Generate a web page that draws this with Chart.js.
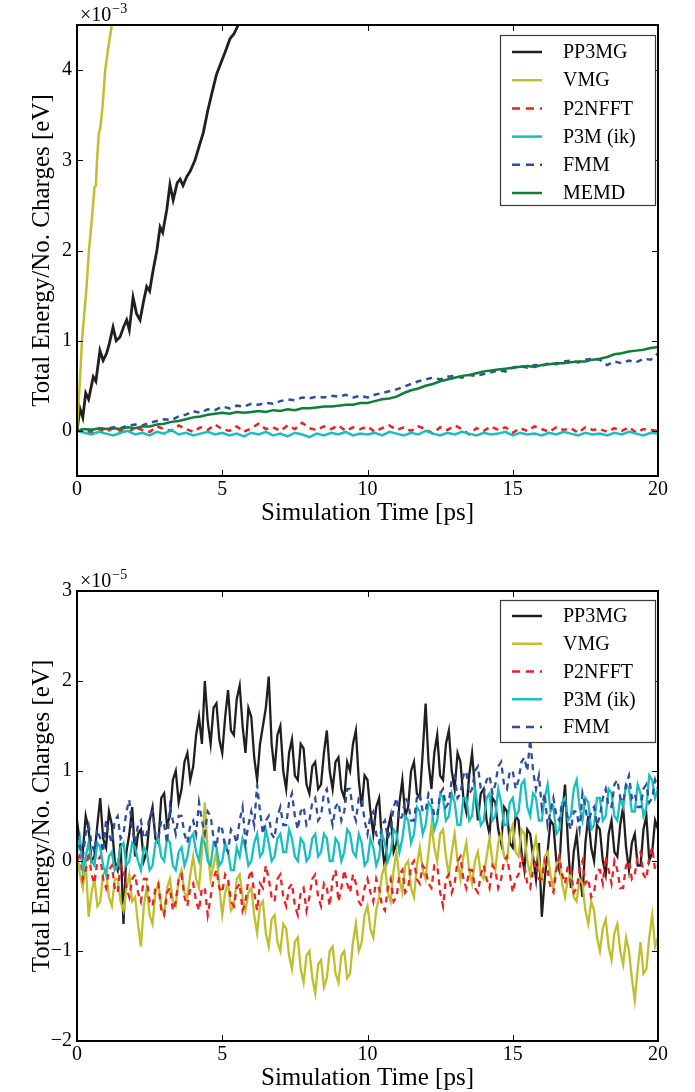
<!DOCTYPE html>
<html>
<head>
<meta charset="utf-8">
<script src="https://cdn.jsdelivr.net/npm/chart.js@4.4.1/dist/chart.umd.min.js"></script>
<style>
    html, body { margin: 0; padding: 0; background: #fff; overflow: hidden; }
    canvas { position: absolute; left: 0; }
    #graficoTopo { top: 0; }
    #graficoBase { top: 545px; }
</style>
</head>
<body>
<canvas id="graficoTopo" width="695" height="545"></canvas>
<canvas id="graficoBase" width="695" height="547"></canvas>
<script>
// ==========================
// DADOS - PAINEL DE CIMA (x 10^-3 eV)
// ==========================
const xTicks = [0, 5, 10, 15, 20];
const yTicksTopo = [0, 1, 2, 3, 4];
const yTicksBase = [-2, -1, 0, 1, 2, 3];

const tempoTopo = [
    0, 0.25, 0.5, 0.75, 1, 1.25, 1.5, 1.75,
    2, 2.25, 2.5, 2.75, 3, 3.25, 3.5, 3.75,
    4, 4.25, 4.5, 4.75, 5, 5.25, 5.5, 5.75,
    6, 6.25, 6.5, 6.75, 7, 7.25, 7.5, 7.75,
    8, 8.25, 8.5, 8.75, 9, 9.25, 9.5, 9.75,
    10, 10.25, 10.5, 10.75, 11, 11.25, 11.5, 11.75,
    12, 12.25, 12.5, 12.75, 13, 13.25, 13.5, 13.75,
    14, 14.25, 14.5, 14.75, 15, 15.25, 15.5, 15.75,
    16, 16.25, 16.5, 16.75, 17, 17.25, 17.5, 17.75,
    18, 18.25, 18.5, 18.75, 19, 19.25, 19.5, 19.75,
    20
];

const pp3mgTempoTopo = [0, 0.1, 0.2, 0.3, 0.4, 0.56, 0.65, 0.79, 0.9, 1.02, 1.1, 1.24, 1.35, 1.48, 1.6, 1.71, 1.8, 1.93, 2.05, 2.17, 2.3, 2.4, 2.5, 2.62, 2.75, 2.86, 2.95, 3.09, 3.2, 3.31, 3.45, 3.55, 3.65, 3.78, 3.9, 4.06, 4.2, 4.35, 4.5, 4.7, 4.8, 4.92, 5.1, 5.27, 5.4, 5.55, 5.8, 6.0];
const pp3mgTopo = [0, 0.25, 0.15, 0.42, 0.35, 0.6, 0.55, 0.89, 0.78, 0.86, 0.95, 1.15, 1.0, 1.04, 1.15, 1.23, 1.12, 1.48, 1.3, 1.23, 1.45, 1.6, 1.55, 1.78, 2.0, 2.26, 2.2, 2.45, 2.73, 2.56, 2.75, 2.79, 2.72, 2.82, 2.88, 3.0, 3.15, 3.31, 3.55, 3.82, 3.95, 4.05, 4.2, 4.35, 4.4, 4.5, 4.7, 4.85];

const vmgTempoTopo = [0, 0.05, 0.1, 0.17, 0.25, 0.33, 0.41, 0.5, 0.6, 0.65, 0.69, 0.75, 0.8, 0.88, 0.97, 1.1, 1.2, 1.3];
const vmgTopo = [0, 0.3, 0.55, 1.0, 1.3, 1.6, 2.0, 2.3, 2.7, 2.72, 3.0, 3.3, 3.35, 3.6, 4.0, 4.3, 4.5, 4.75];

const p2nfftTopo = [
    0.00, 0.01, -0.02, 0.02, -0.01, 0.03, 0.00, -0.02,
    0.04, 0.01, -0.01, 0.05, 0.02, 0.00, 0.06, 0.02,
    -0.01, 0.04, 0.01, 0.07, 0.02, 0.00, 0.05, -0.01,
    0.03, 0.08, 0.02, 0.04, 0.00, 0.06, 0.02, 0.09,
    0.03, 0.01, 0.05, 0.02, 0.06, 0.00, 0.04, 0.02,
    0.05, -0.01, 0.03, 0.06, 0.01, 0.04, 0.00, 0.05,
    0.02, -0.03, 0.04, 0.01, 0.06, 0.02, -0.04, 0.03,
    0.00, 0.05, 0.01, 0.04, -0.02, 0.03, 0.00, 0.05,
    0.02, -0.01, 0.04, 0.01, 0.03, -0.02, 0.04, 0.01,
    0.02, -0.01, 0.03, 0.00, 0.04, -0.02, 0.02, 0.01,
    0.00
];

const p3mTopo = [
    0.00, -0.02, -0.04, -0.01, -0.03, -0.05, -0.02, 0.00,
    -0.04, -0.02, -0.05, -0.01, -0.03, 0.01, -0.04, -0.02,
    -0.05, -0.03, -0.01, -0.04, -0.02, -0.05, -0.03, -0.06,
    -0.02, -0.04, -0.01, -0.05, -0.03, -0.06, -0.02, -0.04,
    -0.07, -0.03, -0.05, -0.02, -0.04, -0.01, -0.05, -0.03,
    -0.04, -0.02, -0.05, -0.01, -0.03, -0.05, -0.02, -0.04,
    0.00, -0.03, -0.05, -0.02, -0.04, -0.01, -0.03, -0.05,
    -0.02, -0.04, -0.03, -0.01, -0.05, -0.02, -0.04, -0.03,
    -0.05, -0.02, -0.04, -0.01, -0.03, -0.05, -0.02, -0.04,
    -0.03, -0.05, -0.02, -0.04, -0.01, -0.03, -0.05, -0.02,
    -0.03
];

const fmmTopo = [
    0.00, 0.02, 0.01, 0.03, 0.02, 0.04, 0.03, 0.06,
    0.07, 0.06, 0.09, 0.11, 0.13, 0.12, 0.16, 0.18,
    0.22, 0.20, 0.24, 0.23, 0.27, 0.25, 0.28, 0.27,
    0.30, 0.29, 0.31, 0.30, 0.33, 0.35, 0.34, 0.37,
    0.36, 0.38, 0.37, 0.39, 0.38, 0.40, 0.37, 0.39,
    0.37, 0.40, 0.42, 0.44, 0.46, 0.49, 0.52, 0.55,
    0.57, 0.59, 0.57, 0.60, 0.61, 0.59, 0.62, 0.61,
    0.63, 0.65, 0.67, 0.66, 0.70, 0.72, 0.70, 0.73,
    0.72, 0.75, 0.74, 0.77, 0.78, 0.76, 0.79, 0.80,
    0.79, 0.73, 0.77, 0.75, 0.78, 0.76, 0.80, 0.79,
    0.86
];

const memdTopo = [
    0.00, 0.02, 0.01, 0.03, 0.02, 0.03, 0.02, 0.04,
    0.03, 0.05, 0.05, 0.07, 0.08, 0.10, 0.11, 0.13,
    0.15, 0.16, 0.18, 0.19, 0.20, 0.19, 0.21, 0.20,
    0.21, 0.22, 0.21, 0.23, 0.22, 0.24, 0.23, 0.25,
    0.25, 0.26, 0.27, 0.27, 0.28, 0.29, 0.29, 0.31,
    0.31, 0.33, 0.35, 0.36, 0.38, 0.42, 0.45, 0.47,
    0.50, 0.52, 0.55, 0.57, 0.59, 0.61, 0.62, 0.64,
    0.66, 0.67, 0.68, 0.69, 0.70, 0.71, 0.72, 0.71,
    0.73, 0.74, 0.75, 0.75, 0.76, 0.77, 0.77, 0.79,
    0.80, 0.82, 0.85, 0.86, 0.88, 0.89, 0.90, 0.92,
    0.93
];

// ==========================
// DADOS - PAINEL DE BAIXO (x 10^-5 eV)
// ==========================
const tempoBase = [
    0, 0.1, 0.2, 0.3, 0.4, 0.5, 0.6, 0.7, 0.8, 0.9, 1, 1.1, 1.2, 1.3, 1.4, 1.5, 1.6, 1.7, 1.8, 1.9,
    2, 2.1, 2.2, 2.3, 2.4, 2.5, 2.6, 2.7, 2.8, 2.9, 3, 3.1, 3.2, 3.3, 3.4, 3.5, 3.6, 3.7, 3.8, 3.9,
    4, 4.1, 4.2, 4.3, 4.4, 4.5, 4.6, 4.7, 4.8, 4.9, 5, 5.1, 5.2, 5.3, 5.4, 5.5, 5.6, 5.7, 5.8, 5.9,
    6, 6.1, 6.2, 6.3, 6.4, 6.5, 6.6, 6.7, 6.8, 6.9, 7, 7.1, 7.2, 7.3, 7.4, 7.5, 7.6, 7.7, 7.8, 7.9,
    8, 8.1, 8.2, 8.3, 8.4, 8.5, 8.6, 8.7, 8.8, 8.9, 9, 9.1, 9.2, 9.3, 9.4, 9.5, 9.6, 9.7, 9.8, 9.9,
    10, 10.1, 10.2, 10.3, 10.4, 10.5, 10.6, 10.7, 10.8, 10.9, 11, 11.1, 11.2, 11.3, 11.4, 11.5, 11.6, 11.7, 11.8, 11.9,
    12, 12.1, 12.2, 12.3, 12.4, 12.5, 12.6, 12.7, 12.8, 12.9, 13, 13.1, 13.2, 13.3, 13.4, 13.5, 13.6, 13.7, 13.8, 13.9,
    14, 14.1, 14.2, 14.3, 14.4, 14.5, 14.6, 14.7, 14.8, 14.9, 15, 15.1, 15.2, 15.3, 15.4, 15.5, 15.6, 15.7, 15.8, 15.9,
    16, 16.1, 16.2, 16.3, 16.4, 16.5, 16.6, 16.7, 16.8, 16.9, 17, 17.1, 17.2, 17.3, 17.4, 17.5, 17.6, 17.7, 17.8, 17.9,
    18, 18.1, 18.2, 18.3, 18.4, 18.5, 18.6, 18.7, 18.8, 18.9, 19, 19.1, 19.2, 19.3, 19.4, 19.5, 19.6, 19.7, 19.8, 19.9,
    20
];

const pp3mgBase = [
    0.45, 0.2, 0.1, 0.5, 0.35, 0.0, 0.05, 0.4, 0.7, 0.25, 0.15, 0.55, 0.4, 0.0, -0.1, 0.2, -0.7, 0.1, 0.3, 0.6,
    0.05, 0.3, 0.35, 0.0, 0.1, 0.45, 0.6, 0.25, 0.2, 0.7, 0.75, 0.4, 0.5, 0.9, 1.0, 0.65, 0.8, 1.1, 1.2, 0.9,
    1.05, 1.4, 1.6, 1.3, 2.0, 1.55, 1.3, 1.7, 1.75, 1.35, 1.2, 1.6, 1.9, 1.45, 1.4, 1.8, 1.95, 1.5, 1.2, 1.7,
    1.6, 1.15, 0.9, 1.3, 1.5, 1.7, 2.05, 1.3, 1.0, 1.4, 1.5, 1.0, 0.8, 1.2, 1.35, 0.95, 0.9, 1.3, 1.25, 0.85,
    0.75, 1.05, 1.1, 0.8, 0.85, 1.2, 1.45, 1.0, 0.8, 1.1, 1.15, 0.8, 0.7, 1.1, 1.0, 1.3, 1.45, 0.9, 0.6, 0.95,
    0.9, 0.55, 0.3, 0.6, 0.7, 0.2, -0.1, 0.35, 0.5, 0.1, 0.2, 0.65, 0.9, 0.5, 0.6, 1.0, 1.1, 0.75, 0.7, 1.2,
    1.75, 1.1, 0.8, 1.2, 1.4, 0.95, 0.9, 1.3, 1.45, 1.0, 0.8, 1.2, 1.1, 0.7, 0.55, 0.95, 1.2, 0.8, 0.45, 0.75,
    0.8, 0.45, 0.3, 0.7, 0.65, 0.35, 0.2, 0.6, 0.55, 0.2, 0.15, 0.5, 0.45, 0.1, -0.1, 0.35, 0.3, 0.05, -0.2, 0.2,
    -0.62, -0.2, 0.1, 0.45, 0.4, 0.0, -0.1, 0.5, 0.85, 0.2, -0.3, 0.1, 0.3, -0.1, -0.4, 0.2, 0.5, 0.15, 0.0, 0.4,
    0.35, 0.0, -0.15, 0.3, 0.45, 0.1, 0.05, 0.4, 0.6, 0.15, -0.1, 0.2, 0.3, -0.05, -0.05, 0.35, 0.5, 0.0, 0.1, 0.45,
    0.35
];

const vmgBase = [
    0.1, -0.15, -0.3, 0.0, -0.62, -0.35, -0.2, -0.5, -0.45, -0.15, -0.1, -0.4, -0.5, -0.2, -0.2, -0.45, -0.55, -0.3, -0.15, -0.45,
    -0.4, -0.7, -0.95, -0.5, -0.3, -0.6, -0.7, -0.35, -0.25, -0.5, -0.6, -0.3, -0.2, -0.45, -0.5, -0.2, -0.1, -0.35, -0.4, -0.15,
    0.05, -0.2, -0.3, 0.1, 0.65, 0.1, -0.2, -0.05, 0.1, -0.3, -0.6, -0.35, -0.25, -0.55, -0.5, -0.2, -0.15, -0.4, -0.55, -0.35,
    -0.3, -0.6, -0.8, -0.5, -0.45, -0.8, -0.95, -0.65, -0.6, -0.9, -1.0, -0.7, -0.75, -1.05, -1.2, -0.9, -0.85, -1.2, -1.35, -1.05,
    -1.0, -1.3, -1.47, -1.15, -1.1, -1.4, -1.3, -1.0, -0.95, -1.25, -1.35, -1.05, -1.0, -1.3, -1.25, -0.9, -0.7, -1.0, -0.9, -0.6,
    -0.5, -0.75, -0.85, -0.55, -0.4, -0.15, -0.05, -0.35, -0.45, -0.1, 0.1, -0.2, -0.35, -0.05, 0.0, -0.3, -0.4, -0.05, 0.15, -0.1,
    -0.2, 0.1, 0.4, 0.15, 0.0, 0.3, 0.35, 0.05, -0.15, 0.1, 0.3, 0.0, -0.2, 0.05, 0.2, -0.1, -0.25, 0.0, 0.1, -0.15,
    -0.2, 0.05, 0.25, 0.0, -0.1, 0.2, 0.3, 0.05, 0.0, 0.3, 0.4, 0.1, 0.05, 0.35, 0.3, 0.0, -0.15, 0.1, 0.25, 0.0,
    -0.2, 0.05, 0.1, -0.15, -0.3, -0.05, 0.05, -0.25, -0.4, -0.2, -0.15, -0.4, -0.45, -0.2, -0.25, -0.55, -0.7, -0.45, -0.55, -0.85,
    -1.0, -0.75, -0.65, -0.95, -1.1, -0.8, -0.7, -1.0, -1.15, -0.85, -1.0, -1.3, -1.55, -1.2, -0.9, -1.25, -1.2, -0.85, -0.6, -0.95,
    -0.85
];

const p2nfftBase = [
    0.0, 0.1, -0.2, -0.1, 0.1, -0.15, -0.25, 0.0, 0.05, -0.2, -0.3, -0.1, -0.05, -0.3, -0.35, -0.05, -0.1, -0.3, -0.4, -0.2,
    -0.15, -0.35, -0.45, -0.2, -0.2, -0.45, -0.5, -0.3, -0.25, -0.55, -0.6, -0.35, -0.3, -0.55, -0.45, -0.2, -0.15, -0.4, -0.5, -0.3,
    -0.25, -0.45, -0.55, -0.3, -0.3, -0.6, -0.4, -0.2, -0.1, -0.3, -0.35, -0.15, -0.2, -0.45, -0.5, -0.3, -0.25, -0.55, -0.45, -0.2,
    -0.1, -0.35, -0.55, -0.25, -0.3, -0.05, -0.2, -0.4, -0.45, -0.2, -0.15, -0.4, -0.5, -0.3, -0.25, -0.5, -0.6, -0.35, -0.3, -0.55,
    -0.4, -0.2, -0.15, -0.4, -0.5, -0.25, -0.3, -0.5, -0.2, -0.1, -0.45, -0.3, -0.1, -0.25, -0.35, -0.15, -0.25, -0.45, -0.5, -0.3,
    -0.2, -0.35, -0.45, -0.2, -0.3, -0.5, -0.55, -0.3, -0.2, -0.45, -0.4, -0.15, -0.1, -0.35, -0.3, -0.05, 0.0, -0.2, -0.25, -0.05,
    -0.1, -0.25, -0.3, -0.05, -0.05, -0.35, -0.5, -0.2, -0.15, -0.35, -0.25, 0.0, 0.05, -0.2, -0.3, -0.1, -0.1, -0.3, -0.35, -0.15,
    -0.05, -0.2, -0.3, -0.05, -0.1, -0.3, -0.2, 0.0, 0.05, -0.15, -0.35, -0.2, -0.15, 0.05, -0.05, -0.25, -0.3, -0.1, 0.0, -0.2,
    -0.2, 0.0, -0.1, -0.3, -0.35, -0.1, 0.05, -0.15, -0.25, -0.05, -0.1, -0.35, -0.3, -0.1, 0.0, -0.25, -0.2, -0.4, -0.35, -0.1,
    -0.1, -0.25, 0.05, -0.1, -0.25, 0.0, -0.1, -0.3, -0.3, -0.05, 0.0, -0.2, -0.15, 0.05, 0.1, -0.15, -0.2, 0.05, 0.15, -0.1,
    -0.05
];

const p3mBase = [
    0.1, 0.25, -0.1, 0.05, 0.2, 0.0, -0.05, 0.2, 0.15, -0.05, -0.15, 0.05, 0.1, -0.1, -0.05, 0.15, 0.2, -0.05, 0.0, 0.2,
    0.15, 0.0, -0.1, 0.15, 0.1, -0.1, -0.05, 0.2, 0.25, 0.05, 0.0, 0.25, 0.2, -0.05, -0.1, 0.1, 0.15, -0.05, 0.05, 0.25,
    0.3, 0.1, 0.0, 0.25, 0.2, 0.0, -0.05, 0.2, 0.15, -0.05, 0.0, 0.2, 0.1, -0.1, -0.1, 0.15, 0.05, 0.25, 0.15, -0.05,
    0.0, 0.2, 0.3, 0.05, 0.1, 0.35, 0.2, 0.0, 0.05, 0.25, 0.3, 0.1, 0.1, 0.35, 0.25, 0.05, 0.0, 0.25, 0.2, 0.0,
    0.05, 0.25, 0.3, 0.05, 0.1, 0.3, 0.25, 0.0, 0.0, 0.25, 0.2, 0.0, 0.1, 0.35, 0.3, 0.1, 0.05, 0.3, 0.2, -0.05,
    0.0, 0.25, 0.15, -0.05, 0.05, 0.3, 0.2, 0.0, 0.1, 0.35, 0.3, 0.1, 0.25, 0.5, 0.45, 0.2, 0.3, 0.6, 0.55, 0.3,
    0.4, 0.65, 0.6, 0.35, 0.45, 0.75, 0.7, 0.45, 0.5, 0.75, 0.65, 0.4, 0.4, 0.7, 0.7, 0.45, 0.5, 0.8, 0.6, 0.4,
    0.45, 0.7, 0.75, 0.45, 0.5, 0.8, 0.65, 0.4, 0.4, 0.65, 0.7, 0.5, 0.55, 0.85, 0.9, 0.6, 0.5, 0.75, 0.7, 0.45,
    0.45, 0.7, 0.85, 0.55, 0.6, 0.3, 0.35, 0.65, 0.7, 0.45, 0.5, 0.8, 0.9, 0.6, 0.45, 0.7, 0.65, 0.35, 0.4, 0.7,
    0.7, 0.45, 0.5, 0.8, 0.75, 0.5, 0.45, 0.7, 0.6, 0.85, 0.8, 0.55, 0.55, 0.85, 0.75, 0.5, 0.6, 0.95, 0.9, 0.7,
    0.8
];

const fmmBase = [
    0.3, 0.15, 0.05, 0.3, 0.4, 0.2, 0.1, 0.35, 0.25, 0.1, 0.45, 0.3, 0.2, 0.45, 0.5, 0.25, 0.3, 0.55, 0.68, 0.35,
    0.2, 0.4, 0.45, 0.25, 0.3, 0.5, 0.55, 0.3, 0.25, 0.45, 0.4, 0.2, 0.6, 0.45, 0.3, 0.5, 0.5, 0.3, 0.2, 0.4,
    0.45, 0.3, 0.65, 0.45, 0.3, 0.55, 0.5, 0.25, 0.15, 0.4, 0.35, 0.15, 0.1, 0.35, 0.3, 0.2, 0.45, 0.6, 0.2, 0.4,
    0.55, 0.4, 0.85, 0.55, 0.3, 0.45, 0.5, 0.3, 0.25, 0.5, 0.6, 0.4, 0.4, 0.65, 0.75, 0.5, 0.35, 0.55, 0.6, 0.4,
    0.45, 0.65, 0.7, 0.45, 0.5, 0.75, 0.8, 0.55, 0.4, 0.6, 0.65, 0.45, 0.55, 0.8, 0.8, 0.55, 0.45, 0.7, 0.7, 0.45,
    0.3, 0.5, 0.55, 0.3, 0.2, 0.4, 0.45, 0.25, 0.35, 0.6, 0.7, 0.45, 0.5, 0.7, 0.65, 0.45, 0.45, 0.7, 0.75, 0.55,
    0.55, 0.75, 0.7, 0.5, 0.5, 0.75, 0.8, 0.6, 0.65, 0.9, 0.95, 0.7, 0.75, 0.95, 1.0, 0.75, 0.8, 1.0, 1.05, 0.8,
    0.75, 0.9, 0.95, 0.75, 0.85, 1.05, 1.1, 0.85, 0.8, 1.0, 1.0, 0.8, 0.9, 1.1, 1.15, 1.0, 1.35, 1.0, 0.8, 0.95,
    0.6, 0.75, 0.4, 0.55, 0.7, 0.5, 0.45, 0.65, 0.65, 0.45, 0.35, 0.55, 0.55, 0.35, 0.75, 0.6, 0.4, 0.55, 0.6, 0.4,
    0.5, 0.7, 0.8, 0.6, 0.6, 0.85, 0.9, 0.7, 0.65, 0.85, 0.95, 0.7, 0.75, 0.6, 0.6, 0.8, 0.85, 0.65, 0.7, 0.9,
    0.8
];

// ==========================
// ESTILO
// ==========================
const cores = {
    "PP3MG": "#221e1f",
    "VMG": "#bfbf2e",
    "P2NFFT": "#ee1f25",
    "P3M (ik)": "#19bfbf",
    "FMM": "#2f4d9f",
    "MEMD": "#0f7e3b"
};
const tracejados = { "P2NFFT": true, "FMM": true };
const fonte = '"Liberation Serif", "DejaVu Serif", serif';

Chart.defaults.font.family = fonte;
Chart.defaults.color = "#000";

function serie(nome, tempos, valores, ordem, largura) {
    return {
        label: nome,
        data: tempos.map((t, i) => ({ x: t, y: valores[i] })),
        borderColor: cores[nome],
        backgroundColor: cores[nome],
        borderWidth: largura,
        borderDash: tracejados[nome] ? [6, 5] : [],
        pointRadius: 0,
        tension: 0,
        fill: false,
        order: ordem
    };
}

function menos(v) {
    return String(v).replace("-", "\u2212");
}

// ==========================
// MOLDURA, TICKS INTERNOS, EXPOENTE E LEGENDA
// ==========================
const molduraPlugin = {
    id: "moldura",
    afterDatasetsDraw(chart, args, opts) {
        const ctx = chart.ctx;
        const a = chart.chartArea;
        const sx = chart.scales.x;
        const sy = chart.scales.y;
        ctx.save();

        // ticks para dentro nos quatro lados
        ctx.strokeStyle = "#000";
        ctx.lineWidth = 1;
        ctx.setLineDash([]);
        ctx.beginPath();
        sx.ticks.forEach(t => {
            const px = Math.round(sx.getPixelForValue(t.value)) + 0.5;
            ctx.moveTo(px, a.bottom); ctx.lineTo(px, a.bottom - 6);
            ctx.moveTo(px, a.top); ctx.lineTo(px, a.top + 6);
        });
        sy.ticks.forEach(t => {
            const py = Math.round(sy.getPixelForValue(t.value)) + 0.5;
            ctx.moveTo(a.left, py); ctx.lineTo(a.left + 6, py);
            ctx.moveTo(a.right, py); ctx.lineTo(a.right - 6, py);
        });
        ctx.stroke();

        // moldura
        ctx.lineWidth = 2;
        ctx.strokeRect(a.left, a.top, a.right - a.left, a.bottom - a.top);

        // expoente do eixo y
        ctx.fillStyle = "#000";
        ctx.textBaseline = "alphabetic";
        ctx.textAlign = "left";
        ctx.font = "20px " + fonte;
        ctx.fillText("\u00d710", a.left + 3, opts.expBase);
        const w = ctx.measureText("\u00d710").width;
        ctx.font = "14px " + fonte;
        ctx.fillText("\u2212" + opts.exp, a.left + 4 + w, opts.expBase - 8);

        // legenda
        const L = opts.legenda;
        ctx.fillStyle = "#fff";
        ctx.fillRect(L.x, L.y, L.w, L.h);
        ctx.strokeStyle = "#3a3a3a";
        ctx.lineWidth = 1.2;
        ctx.strokeRect(L.x + 0.5, L.y + 0.5, L.w, L.h);
        ctx.font = "20px " + fonte;
        ctx.textBaseline = "middle";
        chart.data.datasets.forEach((ds, i) => {
            const y = L.linha0 + i * L.passo;
            ctx.strokeStyle = ds.borderColor;
            ctx.lineWidth = 2.5;
            ctx.setLineDash(ds.borderDash.length ? [8, 6] : []);
            ctx.beginPath();
            ctx.moveTo(L.x + 12, y);
            ctx.lineTo(L.x + 42, y);
            ctx.stroke();
            ctx.setLineDash([]);
            ctx.fillStyle = "#000";
            ctx.fillText(ds.label, L.x + 63, y + 1);
        });
        ctx.restore();
    }
};

function opcoes(yMin, yMax, yTicks, padding, exp, expBase, legenda) {
    return {
        responsive: false,
        animation: false,
        layout: { padding: padding },
        plugins: {
            legend: { display: false },
            tooltip: { enabled: false },
            moldura: { exp: exp, expBase: expBase, legenda: legenda }
        },
        scales: {
            x: {
                type: "linear",
                min: 0,
                max: 20,
                grid: { display: false, drawTicks: false },
                border: { display: false },
                afterBuildTicks: s => { s.ticks = xTicks.map(v => ({ value: v })); },
                afterFit: s => { s.height = 51; },
                ticks: { font: { size: 20 }, padding: 2, maxRotation: 0, callback: v => menos(v) },
                title: {
                    display: true,
                    text: "Simulation Time [ps]",
                    font: { size: 25, lineHeight: 1.1 },
                    padding: { top: 0, bottom: 0 }
                }
            },
            y: {
                type: "linear",
                min: yMin,
                max: yMax,
                grid: { display: false, drawTicks: false },
                border: { display: false },
                afterBuildTicks: s => { s.ticks = yTicks.map(v => ({ value: v })); },
                afterFit: s => { s.width = 77; },
                ticks: { font: { size: 20 }, padding: 5, callback: v => menos(v) },
                title: {
                    display: true,
                    text: "Total Energy/No. Charges [eV]",
                    font: { size: 25, lineHeight: 1.1 },
                    padding: { top: 29, bottom: 0 }
                }
            }
        }
    };
}

// ==========================
// GRAFICOS
// ==========================
new Chart(document.getElementById("graficoTopo"), {
    type: "line",
    data: {
        datasets: [
            serie("PP3MG", pp3mgTempoTopo, pp3mgTopo, 5, 2.8),
            serie("VMG", vmgTempoTopo, vmgTopo, 4, 2.5),
            serie("P2NFFT", tempoTopo, p2nfftTopo, 3, 2.5),
            serie("P3M (ik)", tempoTopo, p3mTopo, 2, 2.5),
            serie("FMM", tempoTopo, fmmTopo, 1, 2.5),
            serie("MEMD", tempoTopo, memdTopo, 0, 2.5)
        ]
    },
    options: opcoes(-0.5, 4.5, yTicksTopo, { top: 25, right: 37, bottom: 18, left: 0 }, 3, 21,
        { x: 500, y: 35, w: 155, h: 170, linha0: 52, passo: 28.2 }),
    plugins: [molduraPlugin]
});

new Chart(document.getElementById("graficoBase"), {
    type: "line",
    data: {
        datasets: [
            serie("PP3MG", tempoBase, pp3mgBase, 4, 2.3),
            serie("VMG", tempoBase, vmgBase, 3, 2.3),
            serie("P2NFFT", tempoBase, p2nfftBase, 2, 2.3),
            serie("P3M (ik)", tempoBase, p3mBase, 1, 2.3),
            serie("FMM", tempoBase, fmmBase, 0, 2.3)
        ]
    },
    options: opcoes(-2, 3, yTicksBase, { top: 46, right: 37, bottom: 0, left: 0 }, 5, 42,
        { x: 500, y: 55, w: 155, h: 142, linha0: 71, passo: 27.75 }),
    plugins: [molduraPlugin]
});
</script>
</body>
</html>
